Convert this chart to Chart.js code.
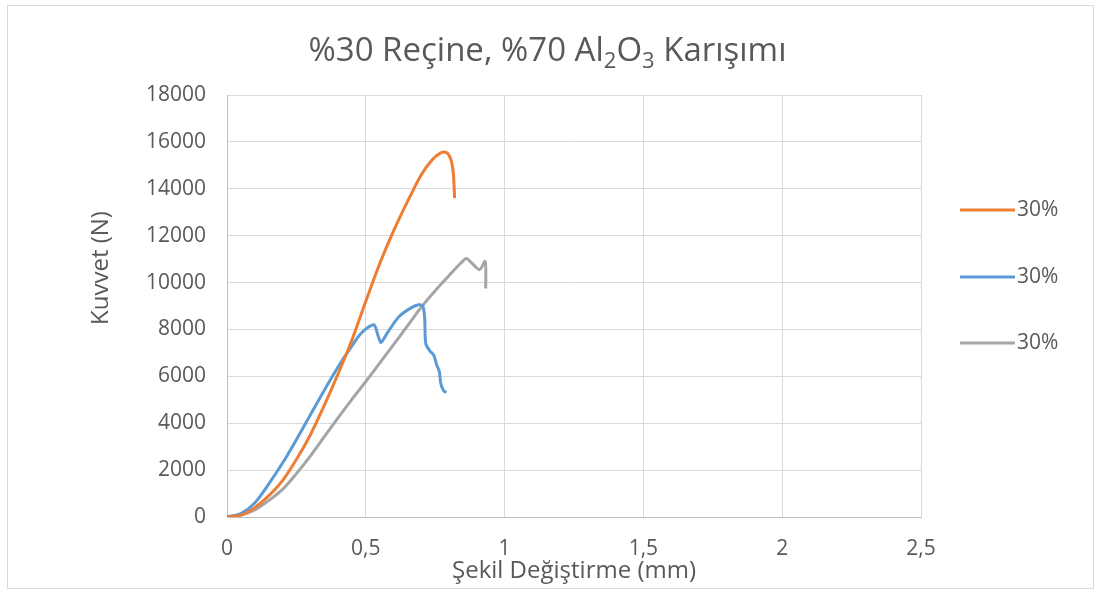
<!DOCTYPE html>
<html lang="tr">
<head>
    <meta charset="UTF-8">
    <title>%30 Reçine, %70 Al2O3 Karışımı</title>
    <script src="https://cdn.jsdelivr.net/npm/chart.js"></script>
    <style>
        body {
            margin: 0;
            background-color: #ffffff;
        }
        #chartBox {
            width: 1095px;
            height: 590px;
        }
    </style>
</head>
<body>
    <div id="chartBox">
        <canvas id="forceChart"></canvas>
    </div>

    <script>
        // Deformation (mm) and force (N) for the three 30% resin samples
        const orangeX = [0, 0.05, 0.1, 0.15, 0.2, 0.25, 0.3, 0.35, 0.4, 0.45, 0.5, 0.55, 0.6, 0.65, 0.7, 0.74, 0.77, 0.79, 0.805, 0.815, 0.82];
        const orangeY = [0, 80, 400, 900, 1550, 2450, 3500, 4750, 6100, 7550, 9200, 10800, 12200, 13450, 14600, 15250, 15530, 15550, 15300, 14700, 13600];

        const blueX = [0, 0.05, 0.1, 0.15, 0.2, 0.25, 0.3, 0.35, 0.4, 0.45, 0.48, 0.51, 0.53, 0.545, 0.555, 0.58, 0.62, 0.66, 0.69, 0.705, 0.712, 0.716, 0.73, 0.745, 0.755, 0.765, 0.77, 0.78, 0.79];
        const blueY = [0, 150, 600, 1400, 2300, 3300, 4350, 5400, 6400, 7300, 7800, 8100, 8200, 7700, 7450, 7900, 8550, 8900, 9050, 9000, 8500, 7400, 7100, 6900, 6500, 6200, 5700, 5400, 5300];

        const grayX = [0, 0.05, 0.1, 0.15, 0.2, 0.25, 0.3, 0.35, 0.4, 0.45, 0.5, 0.55, 0.6, 0.65, 0.7, 0.75, 0.8, 0.84, 0.862, 0.88, 0.91, 0.93, 0.932];
        const grayY = [0, 80, 300, 700, 1180, 1850, 2600, 3420, 4230, 5020, 5780, 6560, 7350, 8150, 8950, 9650, 10300, 10800, 11030, 10850, 10550, 10900, 9750];

        const seriesNames = ['30%', '30%', '30%'];
        const seriesColors = ['#ED7D31', '#5B9BD5', '#A5A5A5'];

        // Title pieces, digits after Al and O are subscripts
        const titleParts = [
            { text: '%30 Reçine, %70 Al', sub: false },
            { text: '2', sub: true },
            { text: 'O', sub: false },
            { text: '3', sub: true },
            { text: ' Karışımı', sub: false }
        ];

        const xTitle = 'Şekil Değiştirme (mm)';
        const yTitle = 'Kuvvet (N)';

        function toPoints(xs, ys) {
            return xs.map((x, i) => ({ x: x, y: ys[i] }));
        }

        const fontFamily = "'Open Sans', sans-serif";
        const textColor = '#595959';

        // Outer frame, title, vertical axis title and the legend column on the right
        const framePlugin = {
            id: 'frame',
            beforeDraw(chart) {
                const c = chart.ctx;
                c.save();
                c.strokeStyle = '#d9d9d9';
                c.lineWidth = 1;
                c.strokeRect(7.5, 5.5, chart.width - 9, chart.height - 7);
                c.restore();
            },
            afterDraw(chart) {
                const c = chart.ctx;
                c.save();
                c.fillStyle = textColor;
                c.textBaseline = 'alphabetic';
                const big = '33px ' + fontFamily;
                const small = '22px ' + fontFamily;
                let total = 0;
                titleParts.forEach(p => {
                    c.font = p.sub ? small : big;
                    total += c.measureText(p.text).width;
                });
                let x = chart.width / 2 - total / 2;
                const base = 61;
                titleParts.forEach(p => {
                    c.font = p.sub ? small : big;
                    c.fillText(p.text, x, p.sub ? base + 7 : base);
                    x += c.measureText(p.text).width;
                });

                // y axis title sits a little above the middle of the plot
                c.save();
                c.translate(101, 268);
                c.rotate(-Math.PI / 2);
                c.font = '24px ' + fontFamily;
                c.textAlign = 'center';
                c.textBaseline = 'middle';
                c.fillText(yTitle, 0, 0);
                c.restore();

                const rows = [210, 277, 343];
                c.font = '21px ' + fontFamily;
                c.textBaseline = 'middle';
                chart.data.datasets.forEach((ds, i) => {
                    c.strokeStyle = ds.borderColor;
                    c.lineWidth = 3;
                    c.beginPath();
                    c.moveTo(960, rows[i]);
                    c.lineTo(1015, rows[i]);
                    c.stroke();
                    c.fillStyle = textColor;
                    c.fillText(ds.label, 1017, rows[i]);
                });
                c.restore();
            }
        };

        const ctx = document.getElementById('forceChart').getContext('2d');

        const forceChart = new Chart(ctx, {
            type: 'scatter',
            data: {
                datasets: [
                    { label: seriesNames[0], data: toPoints(orangeX, orangeY), borderColor: seriesColors[0] },
                    { label: seriesNames[1], data: toPoints(blueX, blueY), borderColor: seriesColors[1] },
                    { label: seriesNames[2], data: toPoints(grayX, grayY), borderColor: seriesColors[2] }
                ].map(d => Object.assign(d, {
                    showLine: true,
                    borderWidth: 3,
                    pointRadius: 0,
                    tension: 0.3,
                    fill: false
                }))
            },
            options: {
                responsive: true,
                maintainAspectRatio: false,
                animation: false,
                layout: {
                    padding: { left: 86, right: 174, top: 95, bottom: 4 }
                },
                plugins: {
                    legend: { display: false },
                    title: { display: false },
                    tooltip: { enabled: false }
                },
                scales: {
                    x: {
                        type: 'linear',
                        min: 0,
                        max: 2.5,
                        afterFit: s => { s.height = 69; },
                        ticks: {
                            stepSize: 0.5,
                            color: textColor,
                            font: { family: fontFamily, size: 21 },
                            padding: 19,
                            callback: v => String(v).replace('.', ',')
                        },
                        grid: { color: '#d9d9d9', drawTicks: false },
                        border: { color: '#bfbfbf' },
                        title: {
                            display: true,
                            text: xTitle,
                            color: textColor,
                            font: { family: fontFamily, size: 24 },
                            padding: 0
                        }
                    },
                    y: {
                        min: 0,
                        max: 18000,
                        afterFit: s => { s.width = 141; },
                        ticks: {
                            stepSize: 2000,
                            color: textColor,
                            font: { family: fontFamily, size: 21 },
                            padding: 21,
                            callback: v => String(v)
                        },
                        grid: { color: '#d9d9d9', drawTicks: false },
                        border: { color: '#bfbfbf' },
                        title: { display: false }
                    }
                }
            },
            plugins: [framePlugin]
        });
    </script>
</body>
</html>
